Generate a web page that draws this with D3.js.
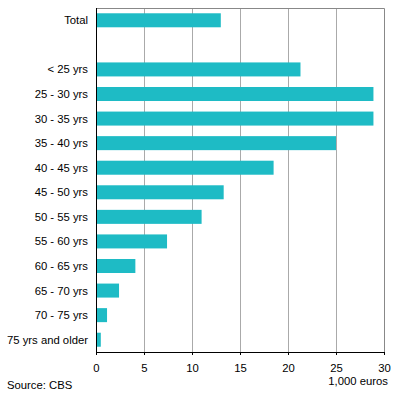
<!DOCTYPE html>
<html>
<head>
<meta charset="utf-8">
<script src="https://cdn.jsdelivr.net/npm/d3@7"></script>
<style>
  body { margin: 0; background: #fff; }
  text { font-family: "Liberation Sans", Arial, sans-serif; font-size: 11.3px; fill: #000; }
</style>
</head>
<body>
<svg id="chart" width="396" height="398"></svg>
<script>
// categories (blank slot after Total)
const categories = ["Total", "", "< 25 yrs", "25 - 30 yrs", "30 - 35 yrs", "35 - 40 yrs",
  "40 - 45 yrs", "45 - 50 yrs", "50 - 55 yrs", "55 - 60 yrs", "60 - 65 yrs",
  "65 - 70 yrs", "70 - 75 yrs", "75 yrs and older"];
const values = [13.0, null, 21.3, 28.9, 28.9, 25.0, 18.5, 13.3, 11.0, 7.4, 4.1, 2.4, 1.15, 0.5];
const xTicks = [0, 5, 10, 15, 20, 25, 30];

const svg = d3.select("#chart");
const plotL = 96, plotR = 384, plotT = 8, plotB = 352;

const x = d3.scaleLinear().domain([0, 30]).range([plotL, plotR]);
const y = d3.scaleBand()
    .domain(categories.map((c, i) => i))
    .range([plotT, plotB])
    .paddingInner(0.43)
    .paddingOuter(0.215);

// gridlines
svg.append("g")
  .selectAll("line")
  .data(xTicks.filter(t => t > 0 && t < 30))
  .join("line")
    .attr("x1", d => x(d) + 0.5).attr("x2", d => x(d) + 0.5)
    .attr("y1", plotT).attr("y2", plotB)
    .attr("stroke", "#aaaaaa").attr("stroke-width", 1);

// frame top & right
svg.append("path")
    .attr("d", `M${plotL},${plotT + 0.5}H${plotR + 0.5}V${plotB}`)
    .attr("fill", "none").attr("stroke", "#888").attr("stroke-width", 1);

// bars
svg.append("g")
  .selectAll("rect")
  .data(values.map((v, i) => ({ v, i })).filter(d => d.v != null))
  .join("rect")
    .attr("x", x(0))
    .attr("y", d => y(d.i))
    .attr("width", d => x(d.v) - x(0))
    .attr("height", y.bandwidth())
    .attr("fill", "#1ebbc5");

// axes lines
svg.append("line")
    .attr("x1", plotL + 0.5).attr("x2", plotL + 0.5)
    .attr("y1", plotT).attr("y2", plotB)
    .attr("stroke", "#000");
svg.append("line")
    .attr("x1", plotL).attr("x2", plotR + 1)
    .attr("y1", plotB + 0.5).attr("y2", plotB + 0.5)
    .attr("stroke", "#000");

// x tick marks + labels
const xt = svg.append("g");
xt.selectAll("line")
  .data(xTicks)
  .join("line")
    .attr("x1", d => x(d) + 0.5).attr("x2", d => x(d) + 0.5)
    .attr("y1", plotB).attr("y2", plotB + 3)
    .attr("stroke", "#000");
xt.selectAll("text")
  .data(xTicks)
  .join("text")
    .attr("x", d => x(d) + 0.5)
    .attr("y", plotB + 20)
    .attr("text-anchor", "middle")
    .text(d => d);

// category labels
svg.append("g")
  .selectAll("text")
  .data(categories.map((c, i) => ({ c, i })).filter(d => d.c))
  .join("text")
    .attr("x", 88)
    .attr("y", d => y(d.i) + y.bandwidth() / 2)
    .attr("dy", "0.35em")
    .attr("text-anchor", "end")
    .text(d => d.c);

svg.append("text")
    .attr("x", 388).attr("y", 385)
    .attr("text-anchor", "end")
    .text("1,000 euros");

svg.append("text")
    .attr("x", 7).attr("y", 389)
    .text("Source: CBS");
</script>
</body>
</html>
